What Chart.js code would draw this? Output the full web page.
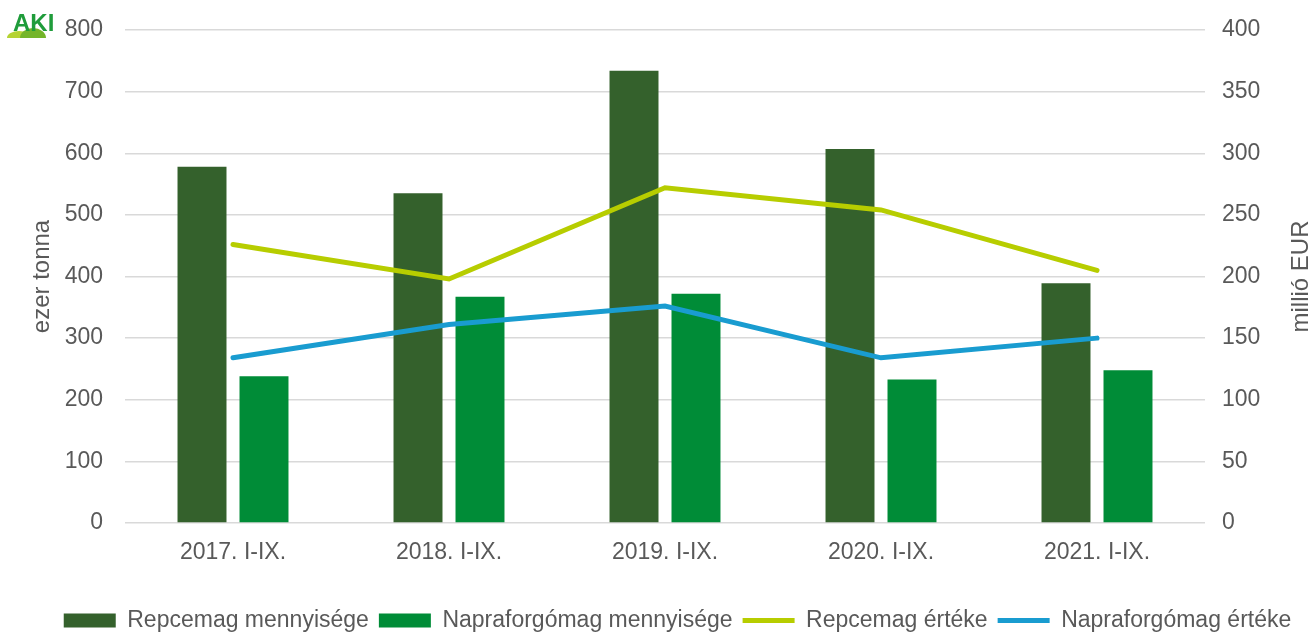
<!DOCTYPE html>
<html>
<head>
<meta charset="utf-8">
<script src="https://cdn.jsdelivr.net/npm/chart.js@4/dist/chart.umd.min.js"></script>
<style>
  html, body { margin: 0; padding: 0; background: #fff; }
  #wrap { width: 1315px; height: 634px; }
</style>
</head>
<body>
<div id="wrap"><canvas id="mycanvas" width="1315" height="634"></canvas></div>
<script>
// adatok
var periods = ["2017. I-IX.", "2018. I-IX.", "2019. I-IX.", "2020. I-IX.", "2021. I-IX."];
var repceMenny = [578, 535, 734, 607, 389];     // ezer tonna
var napraMenny = [238, 367, 372, 233, 248];     // ezer tonna
var repceErtek = [226, 198, 272, 254, 205];     // millió EUR
var napraErtek = [134, 161, 176, 134, 150];     // millió EUR

var leftTicks = [0, 100, 200, 300, 400, 500, 600, 700, 800];
var rightTicks = [0, 50, 100, 150, 200, 250, 300, 350, 400];

var grey = "#595959";
var font = "Liberation Sans, Arial, sans-serif";

// axis titles, logo, legend shift
var extras = {
  id: "extras",
  afterLayout: function(chart) {
    // move legend down and a bit right, like the original
    var lg = chart.legend;
    lg.top += 12;
    lg.bottom += 12;
    lg.left += 20;
    lg.right += 20;
  },
  afterDraw: function(chart) {
    var ctx = chart.ctx;
    var a = chart.chartArea;
    var mid = (a.top + a.bottom) / 2;
    ctx.save();
    ctx.fillStyle = grey;
    ctx.font = "24px " + font;
    ctx.textAlign = "center";
    ctx.textBaseline = "middle";
    ctx.translate(42, mid);
    ctx.rotate(-Math.PI / 2);
    ctx.fillText("ezer tonna", 0, 0);
    ctx.restore();

    ctx.save();
    ctx.fillStyle = grey;
    ctx.font = "24px " + font;
    ctx.textAlign = "center";
    ctx.textBaseline = "middle";
    ctx.translate(1301, mid);
    ctx.rotate(-Math.PI / 2);
    ctx.fillText("millió EUR", 0, 0);
    ctx.restore();

    // AKI logo
    ctx.save();
    ctx.fillStyle = "#b5d334";
    ctx.beginPath();
    ctx.ellipse(19, 38, 12, 7, 0, Math.PI, 0);
    ctx.fill();
    ctx.fillStyle = "#74b52a";
    ctx.beginPath();
    ctx.ellipse(33, 38, 13, 10, 0, Math.PI, 0);
    ctx.fill();
    ctx.fillStyle = "#1f9c3b";
    ctx.font = "bold 24px " + font;
    ctx.textAlign = "left";
    ctx.textBaseline = "alphabetic";
    ctx.fillText("AKI", 13, 31);
    ctx.restore();
  }
};

var chartdata = {
  labels: periods,
  datasets: [
    {
      type: "bar",
      label: "Repcemag mennyisége",
      data: repceMenny,
      backgroundColor: "#34612c",
      yAxisID: "y",
      order: 1,
      categoryPercentage: 0.574,
      barPercentage: 0.79
    },
    {
      type: "bar",
      label: "Napraforgómag mennyisége",
      data: napraMenny,
      backgroundColor: "#008c37",
      yAxisID: "y",
      order: 1,
      categoryPercentage: 0.574,
      barPercentage: 0.79
    },
    {
      type: "line",
      label: "Repcemag értéke",
      data: repceErtek,
      borderColor: "#b7cd00",
      backgroundColor: "#b7cd00",
      borderWidth: 5,
      borderCapStyle: "round",
      pointRadius: 0,
      yAxisID: "y1",
      order: 0
    },
    {
      type: "line",
      label: "Napraforgómag értéke",
      data: napraErtek,
      borderColor: "#199cd0",
      backgroundColor: "#199cd0",
      borderWidth: 5,
      borderCapStyle: "round",
      pointRadius: 0,
      yAxisID: "y1",
      order: 0
    }
  ]
};

var ctx = document.getElementById("mycanvas");
var myChart = new Chart(ctx, {
  data: chartdata,
  plugins: [extras],
  options: {
    responsive: false,
    animation: false,
    layout: { padding: { top: 30, left: 0, right: 0, bottom: 4 } },
    plugins: {
      tooltip: { enabled: false },
      legend: {
        position: "bottom",
        labels: {
          color: grey,
          font: { family: font, size: 23 },
          usePointStyle: true,
          pointStyleWidth: 52,
          boxHeight: 14,
          padding: 10,
          sort: function(a, b) { return a.datasetIndex - b.datasetIndex; },
          generateLabels: function(chart) {
            var items = Chart.defaults.plugins.legend.labels.generateLabels(chart);
            items.forEach(function(it) {
              var ds = chart.data.datasets[it.datasetIndex];
              it.pointStyle = ds.type === "line" ? "line" : "rect";
              it.lineWidth = ds.type === "line" ? 5 : 0;
            });
            return items;
          }
        }
      }
    },
    scales: {
      x: {
        grid: { display: false },
        border: { display: false },
        ticks: { color: grey, font: { family: font, size: 23 }, padding: 8 },
        afterFit: function(scale) { scale.height = 64; }
      },
      y: {
        position: "left",
        min: 0,
        max: 800,
        afterBuildTicks: function(scale) {
          scale.ticks = leftTicks.map(function(v) { return { value: v }; });
        },
        grid: { color: "#d9d9d9", lineWidth: 1.5, drawTicks: true, tickLength: 22, tickColor: "rgba(0,0,0,0)" },
        border: { display: false },
        ticks: { color: grey, font: { family: font, size: 23 }, padding: 0 },
        afterFit: function(scale) { scale.width = 125; }
      },
      y1: {
        position: "right",
        min: 0,
        max: 400,
        afterBuildTicks: function(scale) {
          scale.ticks = rightTicks.map(function(v) { return { value: v }; });
        },
        grid: { drawOnChartArea: false, drawTicks: true, tickLength: 17, tickColor: "rgba(0,0,0,0)" },
        border: { display: false },
        ticks: { color: grey, font: { family: font, size: 23 }, padding: 0 },
        afterFit: function(scale) { scale.width = 110; }
      }
    }
  }
});
</script>
</body>
</html>
